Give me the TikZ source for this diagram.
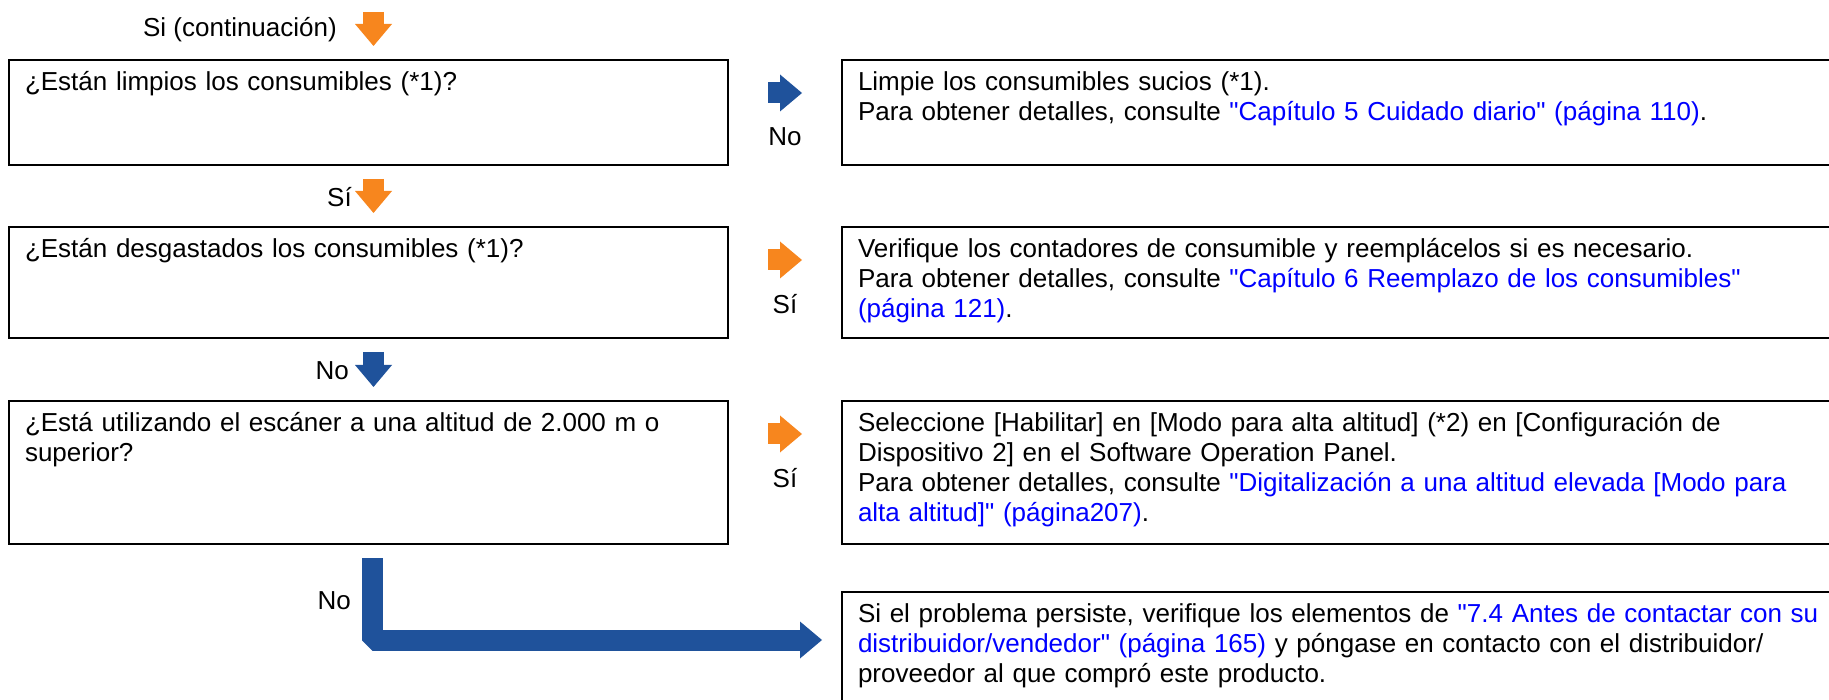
\documentclass[tikz,border=0pt]{standalone}
\usepackage{fontspec}
\setmainfont{Liberation Sans}[Ligatures=TeXOff]
\usetikzlibrary{arrows.meta,calc}
\definecolor{flowor}{RGB}{247,134,30}
\definecolor{flowbl}{RGB}{31,82,155}
\definecolor{linkbl}{RGB}{0,0,255}
\newcommand{\lnk}[1]{\textcolor{linkbl}{#1}}
\begin{document}
\begin{tikzpicture}[x=1pt,y=-1pt,
  every node/.style={font=\fontsize{26}{30}\selectfont},
  qbox/.style={draw,line width=2pt,anchor=north west,align=left,outer sep=0pt,
    inner xsep=16pt,inner ysep=0pt,text height=30.6pt,text width=#1},
  blk/.style={line width=21pt,-{Triangle[width=37pt,length=22pt,line width=0pt]}},
  lbl/.style={inner sep=0pt}]
\useasboundingbox (0,0) rectangle (1829,700);
% questions (left) and answers (right)
\node[qbox=687pt,text depth=74.4pt] (q1) at (9,60) {¿Están limpios los consumibles (*1)?};
\node[qbox=966pt,text depth=74.4pt] (a1) at (842,60) {Limpie los consumibles sucios (*1).\\
  Para obtener detalles, consulte \lnk{"Capítulo 5 Cuidado diario" (página 110)}.};
\node[qbox=687pt,text depth=80.4pt] (q2) at (9,227) {¿Están desgastados los consumibles (*1)?};
\node[qbox=966pt,text depth=80.4pt] (a2) at (842,227) {Verifique los contadores de consumible y reemplácelos si es necesario.\\
  Para obtener detalles, consulte \lnk{"Capítulo 6 Reemplazo de los consumibles"}\\
  \lnk{(página 121)}.};
\node[qbox=687pt,text depth=112.4pt] (q3) at (9,401) {¿Está utilizando el escáner a una altitud de 2.000 m o\\superior?};
\node[qbox=966pt,text depth=112.4pt] (a3) at (842,401) {Seleccione [Habilitar] en [Modo para alta altitud] (*2) en [Configuración de\\
  Dispositivo 2] en el Software Operation Panel.\\
  Para obtener detalles, consulte \lnk{"Digitalización a una altitud elevada [Modo para}\\
  \lnk{alta altitud]" (página207)}.};
\node[qbox=966pt,text depth=120pt] (a4) at (842,592) {Si el problema persiste, verifique los elementos de \lnk{"7.4 Antes de contactar con su}\\
  \lnk{distribuidor/vendedor" (página 165)} y póngase en contacto con el distribuidor/\\
  proveedor al que compró este producto.};
% block arrows
\coordinate (s0) at (373.5,12);
\draw[blk,flowor] (s0) -- ($(q1.north)+(5,-14)$);
\draw[blk,flowor] ($(q1.south)+(5,14)$) -- ($(q2.north)+(5,-14)$);
\draw[blk,flowbl] ($(q2.south)+(5,14)$) -- ($(q3.north)+(5,-14)$);
\draw[blk,flowbl] ($(q1.north east)+(40,33)$) -- ($(a1.north west)+(-40,33)$);
\draw[blk,flowor] ($(q2.north east)+(40,33)$) -- ($(a2.north west)+(-40,33)$);
\draw[blk,flowor] ($(q3.north east)+(40,33)$) -- ($(a3.north west)+(-40,33)$);
\draw[blk,flowbl,line join=bevel] ($(q3.south)+(3.5,14)$) |- ($(a4.north west)+(-20,48)$);
% labels
\node[lbl,anchor=east] (t0) at (337,30) {Si (continuación)};
\node[lbl,anchor=east] (t1) at (352,197) {Sí};
\node[lbl,anchor=east] (t2) at (349,371) {No};
\node[lbl,anchor=east] (t3) at (351,601) {No};
\node[lbl] (r1) at (785,137) {No};
\node[lbl] (r2) at (785,304) {Sí};
\node[lbl] (r3) at (785,478) {Sí};
\end{tikzpicture}
\end{document}
